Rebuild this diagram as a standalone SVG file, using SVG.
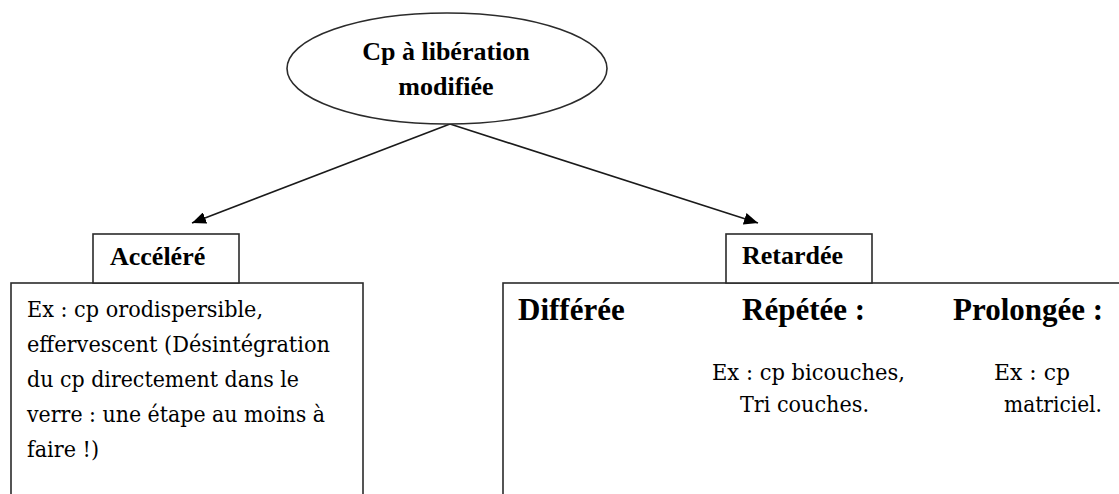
<svg xmlns="http://www.w3.org/2000/svg" width="1119" height="494" viewBox="0 0 1119 494">
<style>
.shape{fill:#fff;stroke:#2b2b2b;stroke-width:1.6}
.conn{stroke:#1a1a1a;stroke-width:1.6;fill:none}
.t{font-family:"Liberation Serif",serif;fill:#000}
.lbl{font-size:26px;font-weight:bold}
.head{font-size:31px;font-weight:bold}
.body{font-family:"DejaVu Serif",serif;font-size:23px;font-weight:normal}
</style>
<defs>
<marker id="arr" markerUnits="userSpaceOnUse" markerWidth="14" markerHeight="12" viewBox="0 0 14 12" refX="14" refY="6" orient="auto">
<path d="M0,0 L14,6 L0,12 z" fill="#000"/>
</marker>
</defs>
<rect width="1119" height="494" fill="#fff"/>
<g id="connectors">
<line class="conn" x1="450" y1="124" x2="192" y2="223" marker-end="url(#arr)"/>
<line class="conn" x1="450" y1="124" x2="758" y2="223" marker-end="url(#arr)"/>
</g>
<g id="root">
<ellipse class="shape" cx="447" cy="68.5" rx="160" ry="55.5"/>
<text class="t lbl" x="446" y="60" text-anchor="middle">Cp à libération</text>
<text class="t lbl" x="446" y="95" text-anchor="middle">modifiée</text>
</g>
<g id="accelere-box">
<rect class="shape" x="11" y="283" width="352" height="230"/>
<text class="t body" x="27" y="317" textLength="236" lengthAdjust="spacingAndGlyphs">Ex : cp orodispersible,</text>
<text class="t body" x="27" y="352" textLength="303" lengthAdjust="spacingAndGlyphs">effervescent (Désintégration</text>
<text class="t body" x="27" y="387" textLength="272" lengthAdjust="spacingAndGlyphs">du cp directement dans le</text>
<text class="t body" x="27" y="422" textLength="298" lengthAdjust="spacingAndGlyphs">verre : une étape au moins à</text>
<text class="t body" x="27" y="457" textLength="72" lengthAdjust="spacingAndGlyphs">faire !)</text>
</g>
<g id="accelere">
<rect class="shape" x="93" y="234" width="146" height="49"/>
<text class="t lbl" x="110" y="265">Accéléré</text>
</g>
<g id="retardee-box">
<rect class="shape" x="503" y="283" width="640" height="230"/>
<text class="t head" x="518" y="320">Différée</text>
<text class="t head" x="742" y="320">Répétée :</text>
<text class="t head" x="953" y="320">Prolongée :</text>
<text class="t body" x="712" y="380" textLength="193" lengthAdjust="spacingAndGlyphs">Ex : cp bicouches,</text>
<text class="t body" x="740" y="412" textLength="129" lengthAdjust="spacingAndGlyphs">Tri  couches.</text>
<text class="t body" x="994" y="380" textLength="76" lengthAdjust="spacingAndGlyphs">Ex : cp</text>
<text class="t body" x="1004" y="412" textLength="98" lengthAdjust="spacingAndGlyphs">matriciel.</text>
</g>
<g id="retardee">
<rect class="shape" x="726" y="234" width="146" height="49"/>
<text class="t lbl" x="742" y="264">Retardée</text>
</g>
</svg>
